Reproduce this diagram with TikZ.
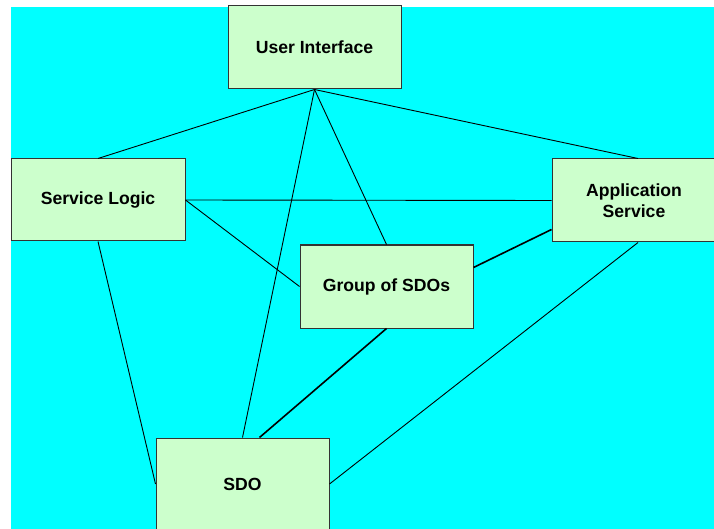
\documentclass[tikz,border=0pt]{standalone}
\usepackage{fontspec}
\setmainfont{Liberation Sans}
\definecolor{bgcyan}{RGB}{0,255,255}
\definecolor{boxgreen}{RGB}{204,255,204}
\begin{document}
\begin{tikzpicture}[x=1pt,y=-1pt,
  box/.style={draw=black!80, line width=1pt, fill=boxgreen, inner sep=0pt,
    font=\bfseries\fontsize{17.6}{21}\selectfont, align=center},
  link/.style={line width=0.9pt},
  thicklink/.style={line width=1.6pt}]
\useasboundingbox (0,0) rectangle (714,529);
\fill[bgcyan] (11,7) rectangle (714,529);
\node[box, minimum width=173pt, minimum height=83pt] (ui) at (314.5,47.5) {User Interface};
\node[box, minimum width=174pt, minimum height=82pt] (sl) at (98,200) {Service Logic};
\node[box, minimum width=164pt, minimum height=83pt] (as) at (634,200.5) {Application\\Service};
\node[box, minimum width=173pt, minimum height=83pt] (g) at (386.5,286.5) {Group of SDOs};
\node[box, minimum width=173pt, minimum height=92pt] (sdo) at (242.5,484) {SDO};
\draw[link] (ui.south) -- (sl.north);
\draw[link] (ui.south) -- ([xshift=4pt]as.north);
\draw[link] (ui.south) -- (sdo.north);
\draw[link] (ui.south) -- (g.north);
\draw[link] (sl.east) -- (as.west);
\draw[link] (sl.east) -- (g.west);
\draw[thicklink] ([yshift=-23pt]g.north east) -- ([yshift=13pt]as.south west);
\draw[thicklink] (g.south) -- ([xshift=17pt]sdo.north);
\draw[link] ([xshift=4pt]as.south) -- (sdo.east);
\draw[link] (sl.south) -- (sdo.west);
\end{tikzpicture}
\end{document}
